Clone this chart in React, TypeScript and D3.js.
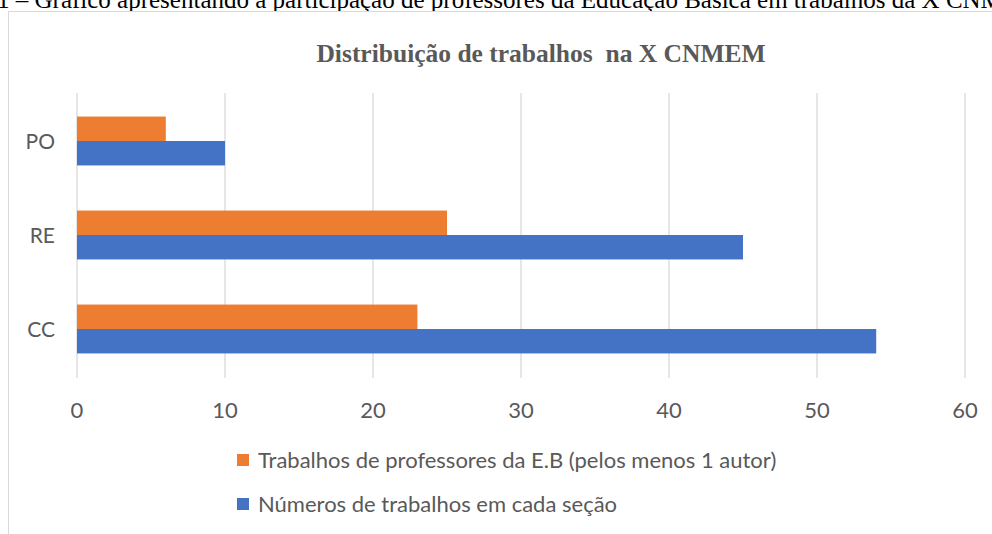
import { useEffect, useRef } from 'react'
import * as d3 from 'd3'

const categories = ['PO', 'RE', 'CC']
const seriesNames = [
  'Trabalhos de professores da E.B (pelos menos 1 autor)',
  'Números de trabalhos em cada seção',
]
const professoresEB = [6, 25, 23]
const trabalhosSecao = [10, 45, 54]
const colors = ['#ED7D31', '#4472C4']
const xTicks = [0, 10, 20, 30, 40, 50, 60]

const caption =
  '1 – Gráfico apresentando a participação de professores da Educação Básica em trabalhos da X CNMEM'
const title = 'Distribuição de trabalhos  na X CNMEM'

const W = 992
const H = 534
const font = 'Lato, "Open Sans", sans-serif'
const textColor = '#595959'

const App = () => {
  const ref = useRef<SVGSVGElement>(null)

  useEffect(() => {
    const svg = d3.select(ref.current)
    svg.selectAll('*').remove()

    const series = [professoresEB, trabalhosSecao]

    const x = d3.scaleLinear().domain([0, 60]).range([77, 965])
    const y = d3
      .scaleBand()
      .domain(categories)
      .range([94, 376])
      .paddingInner(0.48)
      .paddingOuter(0.24)
    const ySub = d3
      .scaleBand()
      .domain(d3.range(series.length).map(String))
      .range([0, y.bandwidth()])

    // caption of the document, cut at the top
    svg.append('text')
      .attr('x', -3)
      .attr('y', 8)
      .attr('font-family', '"Liberation Serif", "Times New Roman", serif')
      .attr('font-size', 25)
      .attr('fill', '#000')
      .text(caption)

    // chart frame
    svg.append('rect')
      .attr('x', 8.5)
      .attr('y', 11.5)
      .attr('width', W)
      .attr('height', H)
      .attr('fill', '#fff')
      .attr('stroke', '#D9D9D9')

    svg.append('text')
      .attr('x', 541)
      .attr('y', 62)
      .attr('text-anchor', 'middle')
      .attr('font-family', '"Liberation Serif", "Times New Roman", serif')
      .attr('font-weight', 'bold')
      .attr('font-size', 25.5)
      .attr('fill', textColor)
      .style('white-space', 'pre')
      .text(title)

    // gridlines
    svg.append('g')
      .selectAll('line')
      .data(xTicks)
      .join('line')
      .attr('x1', d => x(d))
      .attr('x2', d => x(d))
      .attr('y1', 93)
      .attr('y2', 378)
      .attr('stroke', '#D9D9D9')
      .attr('stroke-width', 1.3)

    svg.append('g')
      .selectAll('text')
      .data(xTicks)
      .join('text')
      .attr('x', d => x(d))
      .attr('y', 418)
      .attr('text-anchor', 'middle')
      .attr('font-family', font)
      .attr('font-size', 22)
      .attr('fill', textColor)
      .text(d => d)

    svg.append('g')
      .selectAll('text')
      .data(categories)
      .join('text')
      .attr('x', 55)
      .attr('y', d => (y(d) ?? 0) + y.bandwidth() / 2 + 8)
      .attr('text-anchor', 'end')
      .attr('font-family', font)
      .attr('font-size', 21)
      .attr('fill', textColor)
      .text(d => d)

    series.forEach((vals, i) => {
      svg.append('g')
        .selectAll('rect')
        .data(vals)
        .join('rect')
        .attr('x', x(0))
        .attr('y', (_, j) => (y(categories[j]) ?? 0) + (ySub(String(i)) ?? 0))
        .attr('width', d => x(d) - x(0))
        .attr('height', ySub.bandwidth())
        .attr('fill', colors[i])
    })

    const legend = svg.append('g')
      .selectAll('g')
      .data(seriesNames)
      .join('g')
      .attr('transform', (_, i) => `translate(237, ${454 + i * 44})`)
    legend.append('rect')
      .attr('width', 12)
      .attr('height', 12)
      .attr('fill', (_, i) => colors[i])
    legend.append('text')
      .attr('x', 21)
      .attr('y', 14)
      .attr('font-family', font)
      .attr('font-size', 22)
      .attr('fill', textColor)
      .text(d => d)
  }, [])

  return (
    <svg
      ref={ref}
      width={W}
      height={H}
      style={{ position: 'absolute', left: 0, top: 0, display: 'block', background: '#fff' }}
    />
  )
}

export default App
